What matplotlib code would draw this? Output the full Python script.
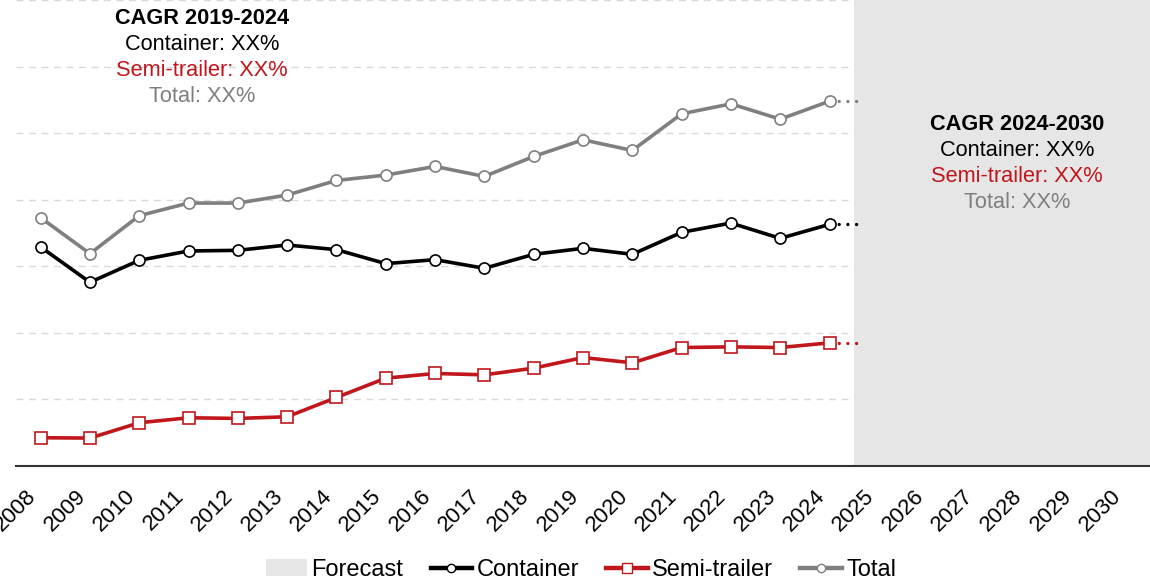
import matplotlib.pyplot as plt
from matplotlib.patches import Patch
from matplotlib.lines import Line2D

plt.rcParams['font.family'] = ['Liberation Sans', 'DejaVu Sans']

years = list(range(2008, 2031))
hist_years = list(range(2008, 2025))

container = [32.9, 27.6, 30.9, 32.3, 32.4, 33.2, 32.5, 30.4, 31.0, 29.7,
             31.8, 32.7, 31.8, 35.1, 36.5, 34.2, 36.3]
semi_trailer = [4.25, 4.2, 6.5, 7.25, 7.15, 7.4, 10.3, 13.2, 13.9, 13.7,
                14.7, 16.3, 15.5, 17.8, 17.9, 17.8, 18.5]
total = [37.3, 31.9, 37.6, 39.5, 39.5, 40.7, 42.9, 43.7, 45.0, 43.5,
         46.5, 49.0, 47.4, 52.9, 54.4, 52.1, 54.8]

BLACK = '#000000'
RED = '#C0161C'
GRAY = '#7F7F7F'
SHADE = '#E6E6E6'

fig = plt.figure(figsize=(11.5, 5.84), dpi=100)
ax = fig.add_axes([0.0139, 0.202, 0.9861, 0.798])

ax.set_xlim(2007.5, 2030.5)
ax.set_ylim(0, 70)
ax.set_yticks(range(0, 71, 10))
ax.yaxis.grid(True, linestyle=(0, (5, 4)), color='#D9D9D9', linewidth=1, zorder=0)
ax.set_axisbelow(True)
ax.tick_params(axis='y', left=False, labelleft=False)
ax.tick_params(axis='x', length=0, pad=14)

ax.axvspan(2024.5, 2030.5, color=SHADE, zorder=1, lw=0)

series = [(container, BLACK, 'o'),
          (semi_trailer, RED, 's'),
          (total, GRAY, 'o')]
for vals, col, mk in series:
    ax.plot(hist_years, vals, color=col, lw=2.6, marker=mk, markersize=8,
            markerfacecolor='white', markeredgecolor=col, markeredgewidth=1.2,
            zorder=3)
    # dotted continuation into the forecast period
    ax.plot([hist_years[-1], hist_years[-1] + 0.6], [vals[-1], vals[-1]],
            color=col, lw=2.4, linestyle=(0, (0.01, 2.6)), dash_capstyle='round',
            zorder=2)

for s in ['top', 'right', 'left']:
    ax.spines[s].set_visible(False)
ax.spines['bottom'].set_color('#333333')
ax.spines['bottom'].set_linewidth(1.5)
ax.spines['bottom'].set_zorder(4)

ax.set_xticks(years)
ax.set_xticklabels([str(y) for y in years], rotation=45, ha='right',
                   fontsize=16)

fs = 15.7
def cagr_block(x, y, title):
    lines = [(title, BLACK, 'bold'), ('Container: XX%', BLACK, 'normal'),
             ('Semi-trailer: XX%', RED, 'normal'), ('Total: XX%', GRAY, 'normal')]
    for i, (txt, col, wt) in enumerate(lines):
        fig.text(x, y - i * 26 / 584, txt, color=col, fontsize=fs, fontweight=wt,
                 ha='center', va='center')

cagr_block(202 / 1150, 1 - 19 / 584, 'CAGR 2019-2024')
cagr_block(1017 / 1150, 1 - 125 / 584, 'CAGR 2024-2030')

handles = [Patch(facecolor=SHADE, edgecolor='none'),
           Line2D([], [], color=BLACK, lw=3.2, marker='o', markersize=6,
                  markerfacecolor='white', markeredgecolor=BLACK),
           Line2D([], [], color=RED, lw=3.2, marker='s', markersize=7,
                  markerfacecolor='white', markeredgecolor=RED),
           Line2D([], [], color=GRAY, lw=3.2, marker='o', markersize=6,
                  markerfacecolor='white', markeredgecolor=GRAY)]
labels = ['Forecast', 'Container', 'Semi-trailer', 'Total']
fig.legend(handles, labels, loc='center', bbox_to_anchor=(581 / 1150, 1 - 570 / 584),
           ncol=4, frameon=False, fontsize=17, handlelength=1.75,
           handletextpad=0.2, columnspacing=1.15)

fig.savefig('out.png', dpi=100)
